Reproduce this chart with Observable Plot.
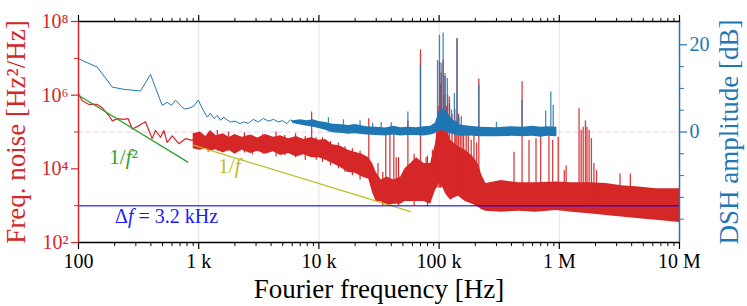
<!DOCTYPE html>
<html><head><meta charset="utf-8">
<script src="https://cdn.jsdelivr.net/npm/d3@7"></script>
<script src="https://cdn.jsdelivr.net/npm/@observablehq/plot@0.6"></script>
<style>
html,body{margin:0;padding:0;background:#fff;}
#chart{width:747px;height:306px;overflow:hidden;}
</style></head><body><div id="chart"></div>
<script>
// ---------- data ----------
// red: frequency noise PSD [Hz^2/Hz], low-frequency trace
const redLowF = [100,107,122,143,157,179,191,210,238,259,280,308,339,361,385,410,437,481,513,547,602,683,777,883,1000];
const redLowS = [1.1e6,7.2e5,5.6e5,5.6e5,4.6e5,2.8e5,2.0e5,2.3e5,2.2e5,2.3e5,1.2e5,1.4e5,1.7e5,1.9e5,1.1e5,6.6e4,1.1e5,7.2e4,1.1e5,5.2e4,7.9e4,4.8e4,6.6e4,5.9e4,7.9e4];
// red: dense noisy part, lower / upper envelope
const redBandF  = [900,1030,1150,1250,1400,1600,1800,2000,2300,2700,3100,3600,4200,4800,5600,6500,7500,8700,10000,11400,13000,15000,17600,20000,23000,26000,28000,30000,33000,37000,42000,48000,52000,58000,65000,75000,85000,93000,100000,107000,114000,125000,132000,145000,165000,190000,214000,225000,245000,330000,460000,640000,940000,1270000,1770000,2450000,3300000,4600000,6400000,10000000];
const redBandLo = [3.5e4,3.2e4,3.5e4,3.0e4,3.3e4,2.7e4,3.2e4,2.5e4,3.2e4,2.6e4,3.0e4,2.5e4,2.9e4,2.3e4,2.6e4,2.1e4,2.4e4,2.0e4,2.0e4,1.7e4,1.4e4,1.1e4,7.9e3,7.6e3,6.0e3,5.2e3,2.2e3,1.3e3,1.3e3,1.0e3,1.1e3,1.1e3,1.3e3,1.3e3,1.3e3,1.3e3,1.1e3,2.5e3,4.0e3,3.2e3,2.0e3,1.4e3,1.6e3,1.8e3,1.3e3,1.1e3,890,790,710,660,710,660,740,660,600,540,490,440,400,350];
const redBandHi = [8.9e4,1.0e5,7.6e4,1.1e5,7.9e4,8.9e4,7.1e4,8.5e4,7.2e4,8.3e4,6.9e4,8.5e4,7.2e4,7.9e4,6.6e4,7.6e4,6.3e4,7.1e4,6.0e4,6.3e4,4.5e4,4.2e4,3.2e4,2.8e4,2.5e4,2.0e4,1.4e4,7.9e3,5.0e3,6.0e3,5.0e3,6.0e3,1.0e4,1.4e4,2.0e4,1.4e4,1.4e4,4.5e4,1.6e5,2.0e5,1.3e5,6.0e4,5.0e4,4.0e4,3.2e4,2.2e4,1.3e4,7.1e3,4.0e3,4.8e3,4.2e3,4.2e3,4.4e3,4.2e3,4.2e3,4.0e3,3.5e3,3.2e3,2.9e3,2.9e3];
// red: short excursions at the band edges
const redNoiseF  = [1200,1430,1770,2400,2800,3400,4400,5200,6400,7700,9500,10700,12500,14500,16500,19000,22000,34000,46000,62000,80000];
const redNoiseLo = [2.8e4,3.0e4,3.0e4,2.7e4,2.4e4,2.5e4,2.1e4,2.3e4,2.0e4,1.7e4,1.7e4,1.5e4,1.2e4,1.0e4,8.0e3,6.5e3,5.0e3,1.0e3,9.5e2,1.0e3,9.5e2];
const redNoiseHi = [8.0e4,1.1e5,1.0e5,9.5e4,8.0e4,8.5e4,1.0e5,8.0e4,9.0e4,7.5e4,7.0e4,7.0e4,5.5e4,5.0e4,4.0e4,3.5e4,3.0e4,8.0e3,2.0e4,2.5e4,2.2e4];
// red: narrow spurs
const redSpikeF    = [8700,26000,31000,36000,39000,42000,44000,55000,60000,70000,78000,88000,95000,98000,100700,103000,104000,108000,110000,112000,115000,118000,122000,128000,135000,138000,141000,145000,150000,155000,160000,168000,175000,185000,195000,205000,214000,420000,490000,560000,640000,700000,820000,880000,980000,1100000,1140000,1460000,1520000,1580000,1650000,1700000,1770000,1850000,1940000,2040000,3200000,3900000];
const redSpikeBase = [4.0e4,1.0e4,3.0e3,2.0e3,2.0e3,2.0e3,2.0e3,2.0e3,2.0e3,2.0e3,2.0e3,2.0e3,3.0e3,3.0e3,3.0e3,3.0e3,3.0e3,3.0e3,3.0e3,3.0e3,3.0e3,3.0e3,3.0e3,2.0e3,2.0e3,2.0e3,2.0e3,2.0e3,2.0e3,2.0e3,2.0e3,2.0e3,2.0e3,2.0e3,2.0e3,2.0e3,2.0e3,1.0e3,1.0e3,1.0e3,1.0e3,1.0e3,1.0e3,1.0e3,1.0e3,1.0e3,1.0e3,1.0e3,1.0e3,1.0e3,1.0e3,1.0e3,1.0e3,1.0e3,1.0e3,1.0e3,1.0e3,1.0e3];
const redSpikeTop  = [3.5e5,2.3e5,1.4e4,1.1e5,1.35e5,1.0e5,2.0e4,2.0e5,1.6e4,1.7e7,2.0e4,3.2e4,2.0e5,5.0e5,7.9e6,2.0e6,4.0e6,8.9e6,1.0e6,3.2e6,5.0e5,1.0e6,5.9e5,3.0e5,4.0e5,2.0e5,3.4e7,3.0e5,1.0e5,1.5e5,1.0e5,1.2e5,8.0e4,6.0e4,8.0e4,5.0e4,2.75e6,2.8e4,2.3e6,5.9e4,6.6e4,8.9e4,7.9e4,5.9e4,7.2e4,8.9e3,1.2e4,4.3e5,1.1e5,1.35e5,2.0e5,1.35e5,1.1e5,6.6e4,1.4e4,8.9e3,7.2e3,7.2e3];
// blue: DSH amplitude [dB]
const blueLowF  = [100,143,191,238,328,397,497,547,594,642,705,760,822,906,992,1090,1180,1250,1340,1430,1520,1620,1720,1840,2000,2220,2360,2590,2850,3130,3450,3800,4200,4600,5000,5400,5800,6200];
const blueLowDb = [16.8,14.9,10.3,9.8,9.4,13.2,6.1,6.8,6.1,7.3,6.1,5.3,5.4,5.9,7.3,5.0,3.4,4.3,3.1,3.8,2.7,3.4,2.8,2.3,2.5,1.9,2.3,2.0,2.9,2.3,3.1,2.5,2.9,2.3,2.6,1.9,2.8,2.3];
const blueBandF  = [6000,7000,8000,9000,10000,11400,13000,15000,17600,20000,25000,30000,36000,42000,48000,55000,65000,75000,85000,93000,100000,110000,120000,130000,150000,180000,220000,300000,400000,500000,600000,700000,800000,955000];
const blueBandLo = [2.0,1.6,1.3,1.1,0.8,0.4,-0.2,-0.3,-0.5,-0.4,-0.7,-0.8,-0.9,-0.7,-0.9,-0.8,-0.8,-0.9,-0.7,-0.4,0.5,0.3,-0.3,-0.6,-1.0,-0.9,-1.1,-1.1,-1.0,-1.1,-1.0,-1.2,-1.0,-1.1];
const blueBandHi = [2.5,2.8,2.6,2.8,2.4,2.2,1.8,1.7,1.5,1.7,1.2,1.1,0.9,1.3,1.0,1.1,1.0,1.2,1.3,2.0,4.5,5.5,4.0,2.8,1.6,1.3,1.1,1.0,1.2,1.1,1.3,1.1,1.2,1.1];
const blueSpikeF   = [12000,16000,22000,28000,33000,40000,55000,70000,97000,100700,104000,108000,112000,117000,122000,127000,134000,141000,146000,153000,214000,300000,490000,770000,850000,890000];
const blueSpikeTop = [3.3,2.8,2.6,2.0,2.2,2.1,4.6,15.3,16.4,22.2,15.8,22.7,13.4,12.3,8.0,5.0,8.8,21.4,3.4,3.5,10.7,2.2,7.3,4.8,9.2,6.1];
// guide lines
const slope2F = [100,812];   const slope2S = [1.0e6,1.52e4];   // 1/f^2
const slope1F = [900,58000]; const slope1S = [4.4e4,690];      // 1/f
const dfLevel = [1e3];       // Δf = 3.2 kHz level
const zeroDb = [0];
// ticks
const xMajor = [1e2,1e3,1e4,1e5,1e6,1e7];
const xMajorLabels = ["100","1 k","10 k","100 k","1 M","10 M"];
const xMinorMult = [2,3,4,5,6,7,8,9];
const yMajor = [1e2,1e4,1e6,1e8];
const yMajorLabels = ["10²","10⁴","10⁶","10⁸"];
const yMinor = [1e3,1e5,1e7];
const rMajor = [0,20];
const rMinor = [-20,-15,-10,-5,5,10,15];
const gridF = [1e3,1e4,1e5,1e6];

// ---------- build ----------
const RED="#d62728", BLUE="#1f77b4", GREEN="#2ca02c", OLIVE="#bcbd22";
const DB_PER_DECADE = 8.45; // right axis: 0 dB sits on 10^5
const dbToS = d => Math.pow(10, 5 + d / DB_PER_DECADE);

const redLow = redLowF.map((f,i)=>({f, s:redLowS[i]}));
const redBand = redBandF.map((f,i)=>({f, lo:redBandLo[i], hi:redBandHi[i]}));
const redNoise = redNoiseF.map((f,i)=>({f, lo:redNoiseLo[i], hi:redNoiseHi[i]}));
const redSpikes = redSpikeF.map((f,i)=>({f, base:redSpikeBase[i], top:redSpikeTop[i]}));
const blueLow = blueLowF.map((f,i)=>({f, s:dbToS(blueLowDb[i])}));
const blueBand = blueBandF.map((f,i)=>({f, lo:dbToS(blueBandLo[i]), hi:dbToS(blueBandHi[i])}));
const blueSpikes = blueSpikeF.map((f,i)=>({f, base:dbToS(0), top:dbToS(blueSpikeTop[i])}));
const slope2 = slope2F.map((f,i)=>({f, s:slope2S[i]}));
const slope1 = slope1F.map((f,i)=>({f, s:slope1S[i]}));
const xMinor = xMajor.slice(0,-1).flatMap(d => xMinorMult.map(m => m*d));
const xLab = new Map(xMajor.map((v,i)=>[v, xMajorLabels[i]]));
const yLab = new Map(yMajor.map((v,i)=>[v, yMajorLabels[i]]));

const FONT = "'Liberation Serif', serif";
const chart = Plot.plot({
  width:747, height:306,
  marginLeft:78, marginRight:68, marginTop:21, marginBottom:64,
  style:{fontFamily:FONT, fontSize:"20px", background:"#fff", overflow:"visible"},
  x:{type:"log", domain:[1e2,1e7], label:null},
  y:{type:"log", domain:[1e2,1e8], label:null},
  marks:[
    Plot.ruleX(gridF, {stroke:"#dcdcdc", strokeWidth:0.8}),
    Plot.ruleY(zeroDb, {y: d=>dbToS(d), stroke:"#f1c6ee", strokeWidth:1, strokeDasharray:"5,3"}),
    Plot.areaY(redBand, {x:"f", y1:"lo", y2:"hi", fill:RED}),
    Plot.ruleX(redNoise, {x:"f", y1:"lo", y2:"hi", stroke:RED, strokeWidth:1.2}),
    Plot.line(redLow, {x:"f", y:"s", stroke:RED, strokeWidth:1.2}),
    Plot.ruleX(redSpikes, {x:"f", y1:"base", y2:"top", stroke:RED, strokeWidth:1.3, strokeOpacity:0.9}),
    Plot.areaY(blueBand, {x:"f", y1:"lo", y2:"hi", fill:BLUE}),
    Plot.line(blueLow, {x:"f", y:"s", stroke:BLUE, strokeWidth:1}),
    Plot.ruleX(blueSpikes, {x:"f", y1:"base", y2:"top", stroke:BLUE, strokeWidth:1.3, strokeOpacity:0.85}),
    Plot.line(slope2, {x:"f", y:"s", stroke:GREEN, strokeWidth:1.2}),
    Plot.line(slope1, {x:"f", y:"s", stroke:OLIVE, strokeWidth:1.2}),
    Plot.ruleY(dfLevel, {stroke:"#0000ff", strokeOpacity:0.72, strokeWidth:1.5}),
    // axis lines
    Plot.ruleY([1e2], {stroke:"#000", strokeWidth:1.5}),
    Plot.ruleY([1e8], {stroke:"#000", strokeWidth:1.5}),
    Plot.ruleX([1e2], {stroke:RED, strokeWidth:1.5}),
    Plot.ruleX([1e7], {stroke:BLUE, strokeWidth:1.5}),
    // x axes
    Plot.axisX(xMajor, {anchor:"bottom", tickSize:7, tickPadding:4, strokeWidth:1.2, color:"#000", fontFamily:FONT, fontSize:20, tickFormat:v=>xLab.get(v)}),
    Plot.axisX(xMinor, {anchor:"bottom", tickSize:4, strokeWidth:1, color:"#000", tickFormat:()=>""}),
    Plot.axisX(xMajor, {anchor:"top", tickSize:7, strokeWidth:1.2, color:"#000", tickFormat:()=>""}),
    Plot.axisX(xMinor, {anchor:"top", tickSize:4, strokeWidth:1, color:"#000", tickFormat:()=>""}),
    // left y
    Plot.axisY(yMajor, {anchor:"left", tickSize:7, tickPadding:3, strokeWidth:1.2, color:RED, fontFamily:FONT, fontSize:20, tickFormat:v=>yLab.get(v)}),
    Plot.axisY(yMinor, {anchor:"left", tickSize:4, strokeWidth:1, color:RED, tickFormat:()=>""}),
    // right y (dB)
    Plot.axisY(rMajor.map(dbToS), {anchor:"right", tickSize:7, strokeWidth:1.2, color:BLUE, tickFormat:()=>""}),
    Plot.axisY(rMinor.map(dbToS), {anchor:"right", tickSize:4, strokeWidth:1, color:BLUE, tickFormat:()=>""}),
    Plot.text(rMajor, {frameAnchor:"right", y:d=>dbToS(d), text:d=>String(d), dx:10, textAnchor:"start", fill:BLUE, fontFamily:FONT, fontSize:20}),
    // titles
    Plot.text(["Fourier frequency [Hz]"], {frameAnchor:"bottom", lineAnchor:"middle", dy:47, fontFamily:FONT, fontSize:27, fill:"#000"}),
    Plot.text(["Freq. noise [Hz²/Hz]"], {frameAnchor:"left", textAnchor:"middle", lineAnchor:"middle", dx:-62, rotate:-90, fontFamily:FONT, fontSize:27, fill:RED}),
    Plot.text(["DSH amplitude [dB]"], {frameAnchor:"right", textAnchor:"middle", lineAnchor:"middle", dx:50, rotate:-90, fontFamily:FONT, fontSize:27, fill:BLUE}),
    // annotations
    Plot.text(["1/f²"], {x:237, y:2.0e4, fontFamily:FONT, fontSize:21, fill:GREEN}),
    Plot.text(["1/f"], {x:1800, y:1.15e4, fontFamily:FONT, fontSize:21, fill:OLIVE}),
    Plot.text(["Δf = 3.2 kHz"], {x:540, y:515, fontFamily:FONT, fontSize:20, fill:"#1a1aff"})
  ]
});

// italic "f" in the math labels
const NS = "http://www.w3.org/2000/svg";
chart.querySelectorAll("text").forEach(t => {
  const s = t.textContent;
  if (s === "1/f²" || s === "1/f" || s === "Δf = 3.2 kHz") {
    const [a, b] = s.split("f");
    t.textContent = "";
    const p1 = document.createElementNS(NS, "tspan"); p1.textContent = a;
    const p2 = document.createElementNS(NS, "tspan"); p2.textContent = "f"; p2.setAttribute("font-style", "italic");
    const p3 = document.createElementNS(NS, "tspan"); p3.textContent = b;
    t.append(p1, p2, p3);
  }
});
document.getElementById("chart").appendChild(chart);
</script></body></html>
